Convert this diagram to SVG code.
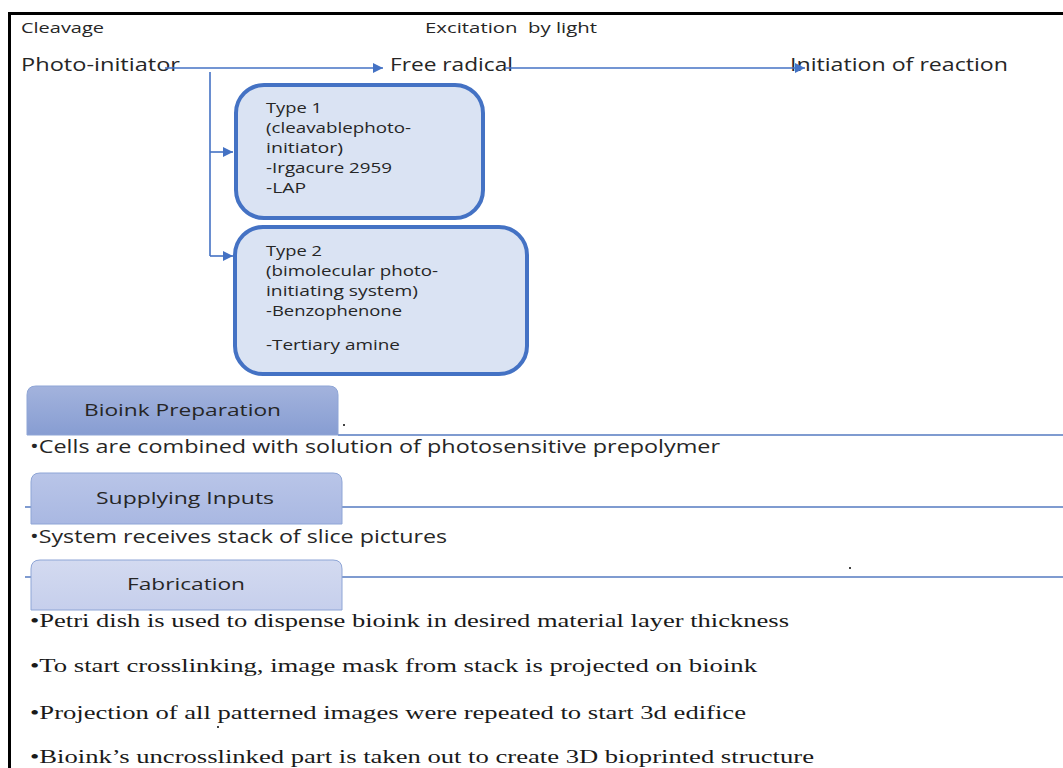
<svg xmlns="http://www.w3.org/2000/svg" width="1063" height="768" viewBox="0 0 1063 768">
  <defs>
    <marker id="arrow" viewBox="0 0 10 10" refX="10" refY="5" markerWidth="10" markerHeight="10" markerUnits="userSpaceOnUse" orient="auto">
      <path d="M0,0 L10,5 L0,10 z" fill="#4472C4"/>
    </marker>
    <linearGradient id="tabDark" x1="0" y1="0" x2="0" y2="1">
      <stop offset="0" stop-color="#a3b3dd"/>
      <stop offset="1" stop-color="#879dd2"/>
    </linearGradient>
    <linearGradient id="tabMid" x1="0" y1="0" x2="0" y2="1">
      <stop offset="0" stop-color="#b9c5e8"/>
      <stop offset="1" stop-color="#a9b8e2"/>
    </linearGradient>
    <linearGradient id="tabLight" x1="0" y1="0" x2="0" y2="1">
      <stop offset="0" stop-color="#d3daf0"/>
      <stop offset="1" stop-color="#c6cfec"/>
    </linearGradient>
    <style>
      .sans { font-family: "Open Sans", "Liberation Sans", sans-serif; fill: #262626; }
      .serif { font-family: "Liberation Serif", "Times New Roman", serif; fill: #1a1a1a; font-size: 19px; }
      .flow { stroke: #4472C4; stroke-width: 1.6; fill: none; }
      .box { fill: #dae3f3; stroke: #4472C4; stroke-width: 4; }
      .tab { stroke: #8ea5d6; stroke-width: 1; }
      .rule { stroke: #7f9bd0; stroke-width: 2; fill: none; }
      .dot { fill: #444; }
    </style>
  </defs>

  <rect width="1063" height="768" fill="#ffffff"/>

  <!-- outer frame -->
  <path d="M9.5,768 V13.5 H1063" fill="none" stroke="#000" stroke-width="3"/>

  <!-- headings of the reaction chain -->
  <g id="labels">
    <text class="sans" x="21" y="33" font-size="15" textLength="83" lengthAdjust="spacingAndGlyphs">Cleavage</text>
    <text class="sans" x="425" y="33" font-size="15" textLength="172" lengthAdjust="spacingAndGlyphs" xml:space="preserve">Excitation  by light</text>
  </g>

  <g id="photo-initiator">
    <text class="sans" x="21" y="71" font-size="18" textLength="159" lengthAdjust="spacingAndGlyphs">Photo-initiator</text>
  </g>
  <g id="free-radical">
    <text class="sans" x="390" y="71" font-size="18" textLength="123" lengthAdjust="spacingAndGlyphs">Free radical</text>
  </g>
  <g id="initiation">
    <text class="sans" x="790" y="71" font-size="18" textLength="218" lengthAdjust="spacingAndGlyphs">Initiation of reaction</text>
  </g>

  <!-- connectors -->
  <g id="connectors">
    <path class="flow" d="M165,68 H383" marker-end="url(#arrow)"/>
    <path class="flow" d="M505,68 H805" marker-end="url(#arrow)"/>
    <path class="flow" d="M210,72 V256"/>
    <path class="flow" d="M210,152 H233" marker-end="url(#arrow)"/>
    <path class="flow" d="M210,256 H233" marker-end="url(#arrow)"/>
  </g>

  <!-- type 1 -->
  <g id="type1">
    <rect class="box" x="236" y="85" width="247" height="133" rx="28"/>
    <text class="sans" font-size="14">
      <tspan x="266" y="113" textLength="56" lengthAdjust="spacingAndGlyphs">Type 1</tspan>
      <tspan x="266" y="133" textLength="145" lengthAdjust="spacingAndGlyphs">(cleavablephoto-</tspan>
      <tspan x="266" y="153" textLength="77" lengthAdjust="spacingAndGlyphs">initiator)</tspan>
      <tspan x="266" y="173" textLength="126" lengthAdjust="spacingAndGlyphs">-Irgacure 2959</tspan>
      <tspan x="266" y="193" textLength="40" lengthAdjust="spacingAndGlyphs">-LAP</tspan>
    </text>
  </g>

  <!-- type 2 -->
  <g id="type2">
    <rect class="box" x="235" y="227" width="292" height="147" rx="28"/>
    <text class="sans" font-size="14">
      <tspan x="266" y="256" textLength="56" lengthAdjust="spacingAndGlyphs">Type 2</tspan>
      <tspan x="266" y="276" textLength="172" lengthAdjust="spacingAndGlyphs">(bimolecular photo-</tspan>
      <tspan x="266" y="296" textLength="152" lengthAdjust="spacingAndGlyphs">initiating system)</tspan>
      <tspan x="266" y="316" textLength="136" lengthAdjust="spacingAndGlyphs">-Benzophenone</tspan>
      <tspan x="266" y="350" textLength="134" lengthAdjust="spacingAndGlyphs">-Tertiary amine</tspan>
    </text>
  </g>

  <!-- process steps -->
  <g id="bioink-preparation">
    <path class="tab" d="M27,435 V395 Q27,386 36,386 H329 Q338,386 338,395 V435 Z" fill="url(#tabDark)"/>
    <path class="rule" d="M338,435 H1063"/>
    <rect class="dot" x="343" y="424" width="2" height="2"/>
    <text class="sans" x="84" y="416" font-size="17" textLength="197" lengthAdjust="spacingAndGlyphs">Bioink Preparation</text>
    <text class="sans" x="30" y="453" font-size="18" textLength="690" lengthAdjust="spacingAndGlyphs">•Cells are combined with solution of photosensitive prepolymer</text>
  </g>

  <g id="supplying-inputs">
    <path class="rule" d="M25,507 H1063"/>
    <path class="tab" d="M31,524 V482 Q31,473 40,473 H333 Q342,473 342,482 V524 Z" fill="url(#tabMid)"/>
    <text class="sans" x="96" y="504" font-size="17" textLength="178" lengthAdjust="spacingAndGlyphs">Supplying Inputs</text>
    <text class="sans" x="30" y="543" font-size="18" textLength="417" lengthAdjust="spacingAndGlyphs">•System receives stack of slice pictures</text>
  </g>

  <g id="fabrication">
    <path class="rule" d="M25,577 H1063"/>
    <path class="tab" d="M31,610 V569 Q31,560 40,560 H333 Q342,560 342,569 V610 Z" fill="url(#tabLight)"/>
    <rect class="dot" x="849" y="567" width="2" height="2"/>
    <text class="sans" x="127" y="590" font-size="17" textLength="118" lengthAdjust="spacingAndGlyphs">Fabrication</text>
    <text class="serif" x="30" y="627" textLength="759" lengthAdjust="spacingAndGlyphs">•Petri dish is used to dispense bioink in desired material layer thickness</text>
    <text class="serif" x="30" y="672" textLength="727" lengthAdjust="spacingAndGlyphs">•To start crosslinking, image mask from stack is projected on bioink</text>
    <text class="serif" x="30" y="719" textLength="716" lengthAdjust="spacingAndGlyphs">•Projection of all patterned images were repeated to start 3d edifice</text>
    <rect class="dot" x="217" y="726" width="2" height="2"/>
    <text class="serif" x="30" y="763" textLength="784" lengthAdjust="spacingAndGlyphs">•Bioink’s uncrosslinked part is taken out to create 3D bioprinted structure</text>
  </g>
</svg>
